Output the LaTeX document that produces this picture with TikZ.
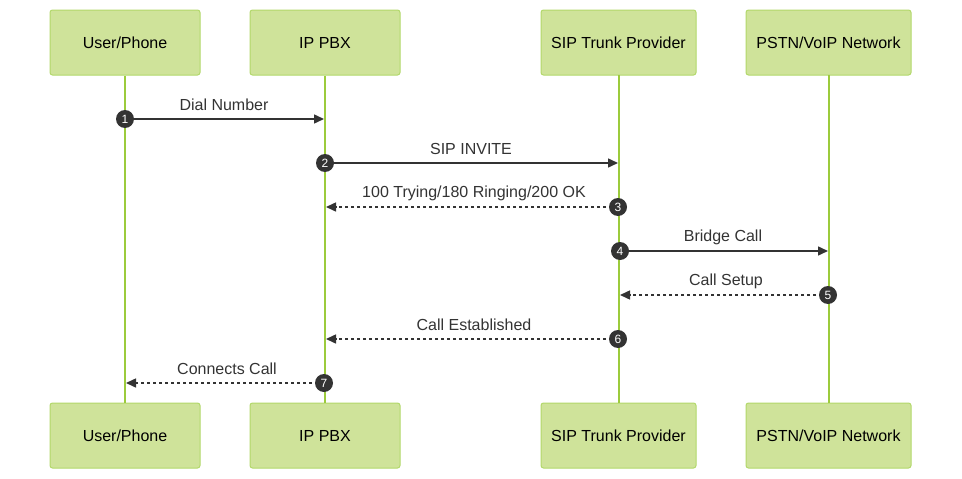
\documentclass[tikz,border=0pt]{standalone}
\usepackage{fontspec}
\setmainfont{Liberation Sans}
\usetikzlibrary{arrows.meta}
\definecolor{actfill}{HTML}{CFE39A}
\definecolor{actline}{HTML}{B2D86A}
\definecolor{life}{HTML}{9CCB3C}
\definecolor{ink}{HTML}{333333}
\tikzset{
  actor/.style={draw=actline, fill=actfill, line width=1pt, rounded corners=2.5pt,
    minimum height=65pt, text=black, font=\fontsize{16}{18}\selectfont, inner sep=0pt},
  lifeline/.style={draw=life, line width=1.5pt},
  msg/.style={draw=ink, line width=1.5pt, -{Triangle[length=10pt,width=9pt]}},
  reply/.style={msg, dash pattern=on 3pt off 3pt},
  num/.style={circle, fill=ink, text=white, inner sep=0pt, minimum size=18pt,
    font=\fontsize{12}{13}\selectfont},
  lbl/.style={text=ink, font=\fontsize{16}{18}\selectfont, inner sep=0pt}
}
\begin{document}
\begin{tikzpicture}[x=1pt,y=-1pt]
\useasboundingbox (0,0) rectangle (962,479);
% actors top
\node[actor, minimum width=150pt] (ut) at (125,42.5) {User/Phone};
\node[actor, minimum width=150pt] (pt) at (325,42.5) {IP PBX};
\node[actor, minimum width=155pt] (st) at (618.5,42.5) {SIP Trunk Provider};
\node[actor, minimum width=165pt] (nt) at (828.5,42.5) {PSTN/VoIP Network};
% actors bottom
\node[actor, minimum width=150pt] (ub) at (125,435.5) {User/Phone};
\node[actor, minimum width=150pt] (pb) at (325,435.5) {IP PBX};
\node[actor, minimum width=155pt] (sb) at (618.5,435.5) {SIP Trunk Provider};
\node[actor, minimum width=165pt] (nb) at (828.5,435.5) {PSTN/VoIP Network};
% lifelines
\coordinate (s1) at (619,75); \coordinate (s2) at (619,403);
\coordinate (w1) at (829,75); \coordinate (w2) at (829,403);
\draw[lifeline] (ut.south) -- (ub.north);
\draw[lifeline] (pt.south) -- (pb.north);
\draw[lifeline] (s1) -- (s2);
\draw[lifeline] (w1) -- (w2);
% message endpoints
\coordinate (a1) at (125,119); \coordinate (b1) at (324,119);
\coordinate (a2) at (325,163); \coordinate (b2) at (618,163);
\coordinate (a3) at (618,207); \coordinate (b3) at (326,207);
\coordinate (a4) at (620,251); \coordinate (b4) at (828,251);
\coordinate (a5) at (828,295); \coordinate (b5) at (620,295);
\coordinate (a6) at (618,339); \coordinate (b6) at (326,339);
\coordinate (a7) at (324,383); \coordinate (b7) at (126,383);
% messages
\draw[msg] (a1) -- (b1);
\draw[msg] (a2) -- (b2);
\draw[reply] (a3) -- (b3);
\draw[msg] (a4) -- (b4);
\draw[reply] (a5) -- (b5);
\draw[reply] (a6) -- (b6);
\draw[reply] (a7) -- (b7);
% labels
\node[lbl] (l1) at (224,105) {Dial Number};
\node[lbl] (l2) at (471,149) {SIP INVITE};
\node[lbl] (l3) at (474,193) {100 Trying/180 Ringing/200 OK};
\node[lbl] (l4) at (723,237) {Bridge Call};
\node[lbl] (l5) at (726,281) {Call Setup};
\node[lbl] (l6) at (474,325) {Call Established};
\node[lbl] (l7) at (227,369) {Connects Call};
% numbers
\node[num] (n1) at (a1) {1};
\node[num] (n2) at (a2) {2};
\node[num] (n3) at (a3) {3};
\node[num] (n4) at (a4) {4};
\node[num] (n5) at (a5) {5};
\node[num] (n6) at (a6) {6};
\node[num] (n7) at (a7) {7};
\end{tikzpicture}
\end{document}
